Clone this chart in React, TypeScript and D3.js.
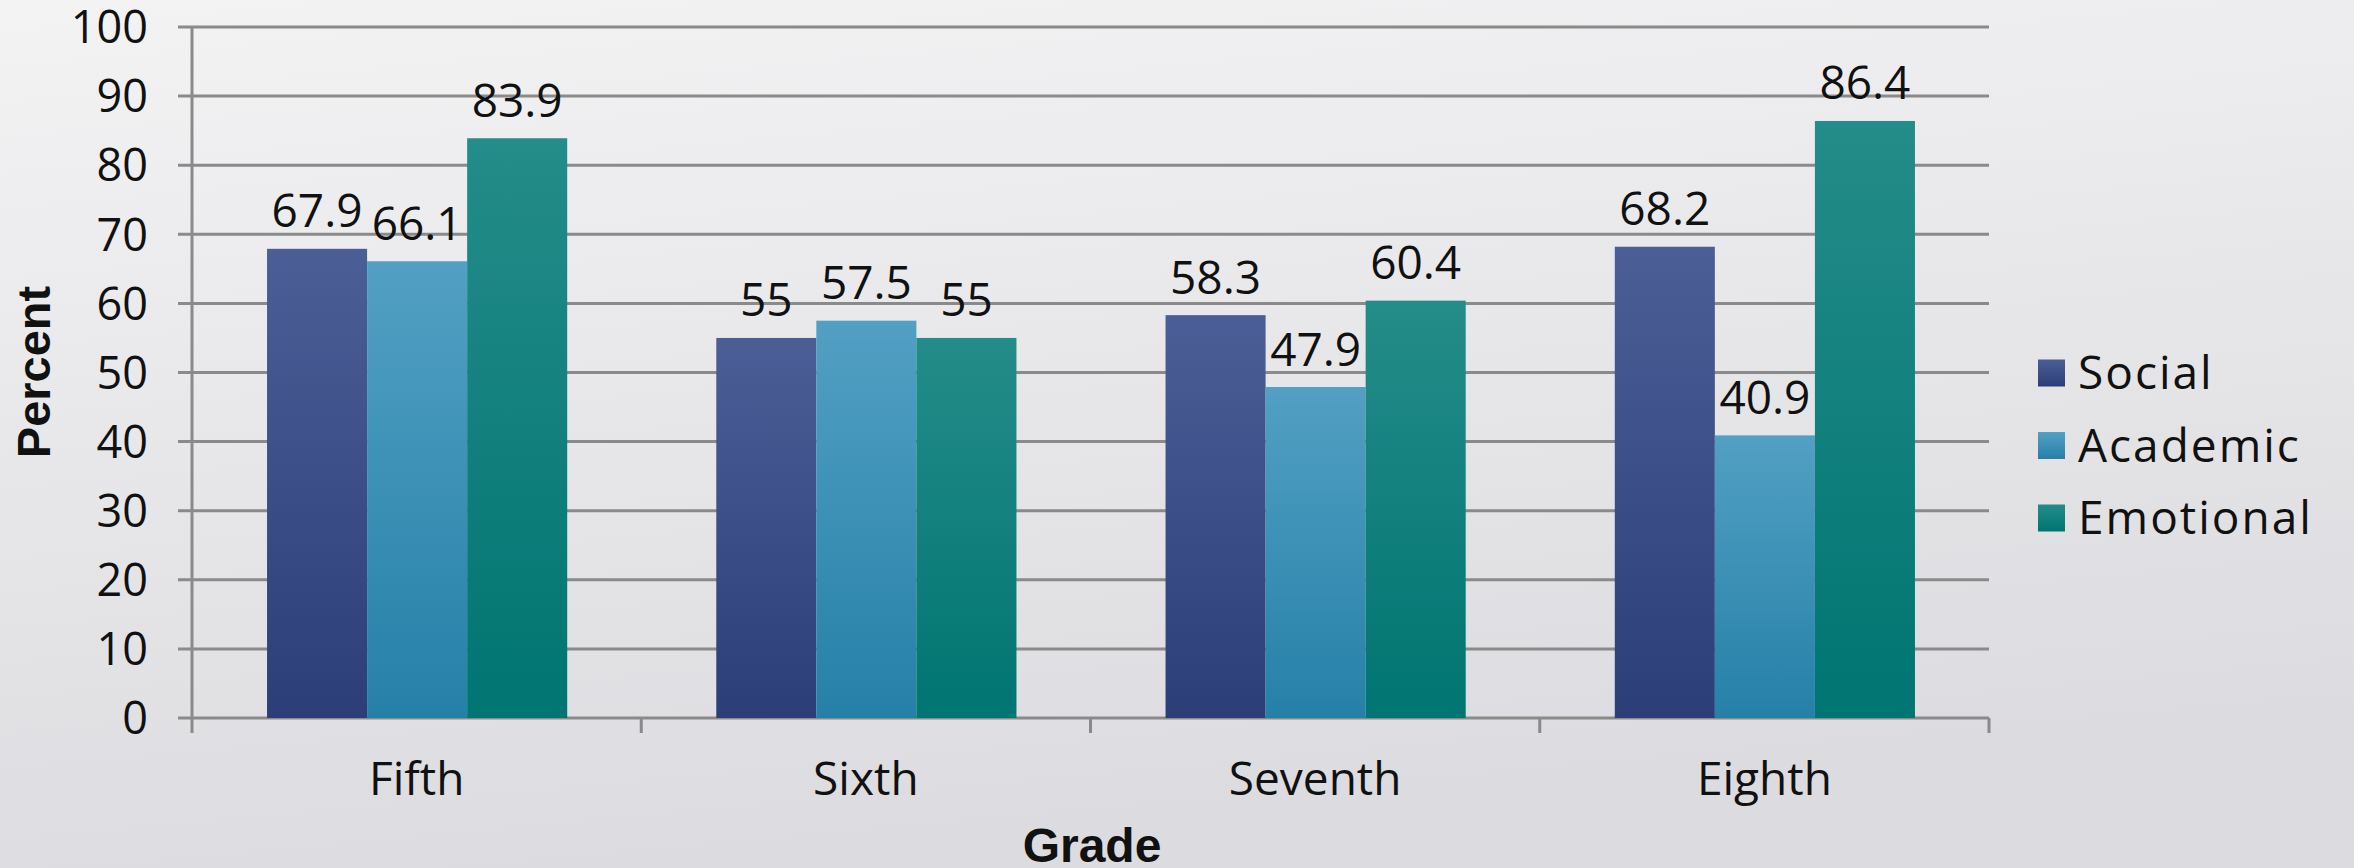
import React from "react";
import * as d3 from "d3";

const grades = ["Fifth", "Sixth", "Seventh", "Eighth"];
const seriesNames = ["Social", "Academic", "Emotional"];
const social = [67.9, 55, 58.3, 68.2];
const academic = [66.1, 57.5, 47.9, 40.9];
const emotional = [83.9, 55, 60.4, 86.4];
const yTicks = [0, 10, 20, 30, 40, 50, 60, 70, 80, 90, 100];

const seriesColors = [
  { top: "#4c5e96", bottom: "#2b3e77" },
  { top: "#52a0c3", bottom: "#2580a8" },
  { top: "#248c89", bottom: "#007571" },
];

const W = 2354;
const H = 868;
const plot = { left: 192, right: 1989, top: 27, bottom: 718 };
const FONT = "'Open Sans', 'DejaVu Sans', sans-serif";
const BOLD = "'Liberation Sans', Arial, sans-serif";

export default function App() {
  const values = [social, academic, emotional];
  const x = d3.scaleBand<string>().domain(grades).range([plot.left, plot.right]).paddingInner(0).paddingOuter(0);
  const inner = d3
    .scaleBand<string>()
    .domain(seriesNames)
    .range([x.bandwidth() * (75 / 449), x.bandwidth() * (375 / 449)])
    .padding(0);
  const y = d3.scaleLinear().domain([0, 100]).range([plot.bottom, plot.top]);
  const grid = "#8a8a8a";
  const boundaries = grades.map((g) => x(g) as number).concat([plot.right]);

  return (
    <svg
      width={W}
      height={H}
      style={{ position: "absolute", left: 0, top: 0, display: "block" }}
      xmlns="http://www.w3.org/2000/svg"
    >
      <defs>
        <linearGradient id="bg" x1="0" y1="0" x2="0.25" y2="1">
          <stop offset="0" stopColor="#f3f3f4" />
          <stop offset="1" stopColor="#dcdce0" />
        </linearGradient>
        {seriesColors.map((c, i) => (
          <linearGradient key={i} id={`g${i}`} x1="0" y1="0" x2="0" y2="1">
            <stop offset="0" stopColor={c.top} />
            <stop offset="1" stopColor={c.bottom} />
          </linearGradient>
        ))}
      </defs>
      <rect x={0} y={0} width={W} height={H} fill="url(#bg)" />

      {/* gridlines and y ticks */}
      {yTicks.map((t) => (
        <g key={t}>
          <line x1={plot.left - 14} x2={plot.right} y1={y(t)} y2={y(t)} stroke={grid} strokeWidth={3} />
          <text
            x={148}
            y={y(t)}
            dy="0.36em"
            textAnchor="end"
            fontFamily={FONT}
            fontSize={45}
            fill="#111"
          >
            {t}
          </text>
        </g>
      ))}
      <line x1={plot.left} x2={plot.left} y1={plot.top} y2={plot.bottom + 15} stroke={grid} strokeWidth={3} />
      {boundaries.slice(1).map((bx, i) => (
        <line key={i} x1={bx} x2={bx} y1={plot.bottom} y2={plot.bottom + 15} stroke={grid} strokeWidth={3} />
      ))}

      {/* bars */}
      {grades.map((g, gi) => (
        <g key={g}>
          {seriesNames.map((s, si) => {
            const v = values[si][gi];
            const bx = (x(g) as number) + (inner(s) as number);
            const bw = inner.bandwidth();
            return (
              <g key={s}>
                <rect x={bx} y={y(v)} width={bw} height={y(0) - y(v)} fill={`url(#g${si})`} />
                <text
                  x={bx + bw / 2}
                  y={y(v) - 21.5}
                  textAnchor="middle"
                  fontFamily={FONT}
                  fontSize={46}
                  fill="#111"
                >
                  {v}
                </text>
              </g>
            );
          })}
          <text
            x={(x(g) as number) + x.bandwidth() / 2}
            y={795}
            textAnchor="middle"
            fontFamily={FONT}
            fontSize={46}
            fill="#111"
          >
            {g}
          </text>
        </g>
      ))}

      {/* axis titles */}
      <text x={1092} y={862} textAnchor="middle" fontFamily={BOLD} fontWeight="bold" fontSize={48} fill="#111">
        Grade
      </text>
      <text
        transform="translate(50,372) rotate(-90)"
        textAnchor="middle"
        fontFamily={BOLD}
        fontWeight="bold"
        fontSize={47}
        fill="#111"
      >
        Percent
      </text>

      {/* legend */}
      {seriesNames.map((s, i) => {
        const cy = 373 + i * 72.5;
        return (
          <g key={s}>
            <rect x={2038} y={cy - 13.5} width={27} height={27} fill={`url(#g${i})`} />
            <text
              x={2078}
              y={cy + 16}
              fontFamily={FONT}
              fontSize={46}
              letterSpacing={2}
              fill="#111"
            >
              {s}
            </text>
          </g>
        );
      })}
    </svg>
  );
}
